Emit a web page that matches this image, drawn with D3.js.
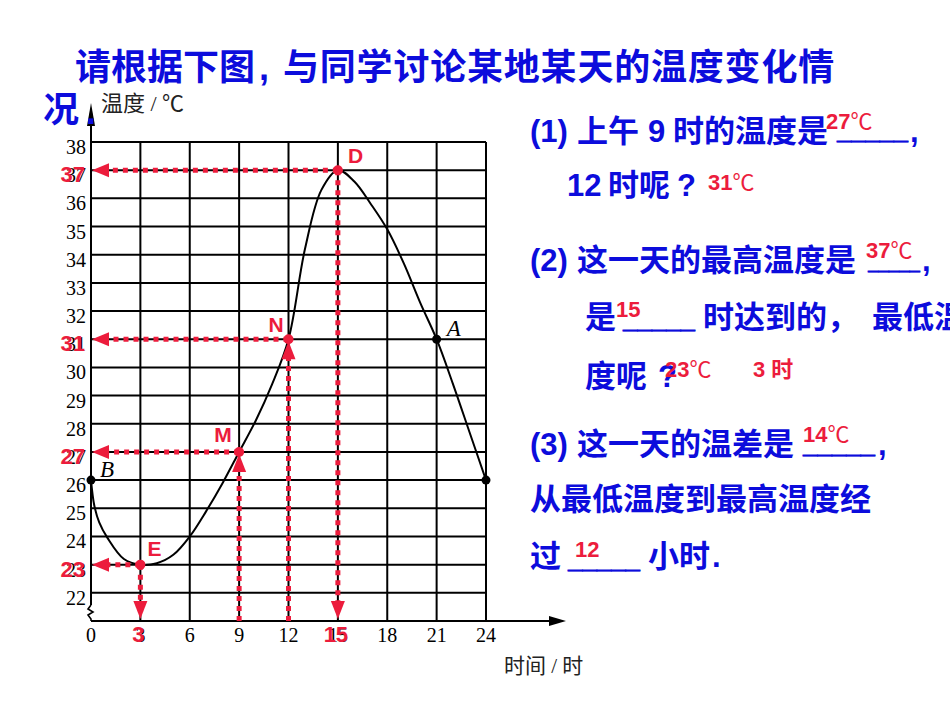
<!DOCTYPE html>
<html><head><meta charset="utf-8">
<script src="https://cdn.jsdelivr.net/npm/d3@7"></script>
<style>body{margin:0;background:#fff}svg{display:block}</style>
</head><body>
<svg id="c" width="950" height="713"></svg>
<script>
// ---- data ----
const hours = [0, 0.2, 0.5, 1, 2, 3, 4, 5, 6, 7, 8, 9, 10, 11, 12, 13, 14, 15, 16, 17, 18, 19, 20, 21, 22, 23, 24];
const temps = [26, 25.1, 24.5, 23.95, 23.2, 23, 23.05, 23.35, 24, 24.9, 25.9, 27, 28.1, 29.4, 31, 34.2, 36.3, 37, 36.6, 35.8, 34.9, 33.7, 32.3, 31, 29.4, 27.7, 26];
const yTicks = [22,23,24,25,26,27,28,29,30,31,32,33,34,35,36,37,38];
const xTicks = [0,3,6,9,12,15,18,21,24];
const keyHours = [3, 9, 12, 15];
const keyTemps = [23, 27, 31, 37];
const keyNames = ["E", "M", "N", "D"];
const keyDir = ["down", "up", "up", "down"];
const blackHours = [0, 21, 24];
const blackTemps = [26, 31, 26];
const blackNames = ["B", "A", ""];
const titleLine1a = "请根据下图";
const titleLine1b = "与同学讨论某地某天的温度变化情";
const titleLine2 = "况";
const yLabel = "温度 / ℃";
const xLabel = "时间 / 时";
const blueSegs = [
  [530,142,"(1)"],[577,142,"上午"],[648,142,"9"],[673,142,"时的温度是"],[910,142,","],
  [567,196,"12"],[608,196,"时呢"],[677,196,"?"],
  [530,271,"(2)"],[577,271,"这一天的最高温度是"],[922,271,","],
  [585,328,"是"],[703,328,"时达到的，"],[872,328,"最低温"],
  [585,387,"度呢"],[658,387,"?"],
  [530,455,"(3)"],[577,455,"这一天的温差是"],[878,455,","],
  [530,510,"从最低温度到最高温度经"],
  [530,567,"过"],[648,567,"小时"],[712,567,"."]
];
const blanks = [[837,908,143],[868,920,273],[623,695,332],[803,875,457],[568,640,572]];
const answers = [
  [826,129,"27","℃"],[708,190,"31","℃"],[866,258,"37","℃"],[616,317,"15",""],
  [665,377,"23","℃"],[753,377,"3 ","时"],[803,442,"14","℃"],[575,557,"12",""]
];

// ---- drawing ----
const RED = "#ec1c3c", BLUE = "#0c0cdc";
const svg = d3.select("#c");
const x = d3.scaleLinear().domain([0,24]).range([91,486]);
const y = d3.scaleLinear().domain([21,38]).range([621,142]);
const sans = "'Liberation Sans','Noto Sans CJK SC',Arial,sans-serif";
const serif = "'Liberation Serif','Noto Sans CJK SC',serif";

// title
svg.append("text").attr("x",75).attr("y",80).attr("font-family",sans).attr("font-weight","bold")
  .attr("font-size",36).attr("fill",BLUE).text(titleLine1a);
svg.append("text").attr("x",259).attr("y",80).attr("font-family",sans).attr("font-weight","bold")
  .attr("font-size",36).attr("fill",BLUE).text(",");
svg.append("text").attr("x",283).attr("y",80).attr("font-family",sans).attr("font-weight","bold")
  .attr("font-size",36).attr("letter-spacing",0.8).attr("fill",BLUE).text(titleLine1b);
svg.append("text").attr("x",43).attr("y",122).attr("font-family",sans).attr("font-weight","bold")
  .attr("font-size",36).attr("fill",BLUE).text(titleLine2);

// grid
const g = svg.append("g");
g.selectAll(".h").data(yTicks).join("line")
  .attr("x1",x(0)).attr("x2",x(24)).attr("y1",d=>y(d)).attr("y2",d=>y(d))
  .attr("stroke","#000").attr("stroke-width",2);
g.selectAll(".v").data(xTicks.slice(1)).join("line")
  .attr("x1",d=>x(d)).attr("x2",d=>x(d)).attr("y1",y(38)).attr("y2",y(21))
  .attr("stroke","#000").attr("stroke-width",2);
// y axis with arrow and break mark
g.append("line").attr("x1",x(0)).attr("x2",x(0)).attr("y1",112).attr("y2",605)
  .attr("stroke","#000").attr("stroke-width",2);
g.append("path").attr("d",`M${x(0)-4},126 L${x(0)},103 L${x(0)+4},126 Z`).attr("fill","#000");
g.append("path").attr("d",`M${x(0)},605 l-3,4 l5,3 l-5,3 l3,4 l0,2`)
  .attr("fill","none").attr("stroke","#000").attr("stroke-width",1.6);
// x axis with arrow
g.append("line").attr("x1",x(0)).attr("x2",556).attr("y1",y(21)).attr("y2",y(21))
  .attr("stroke","#000").attr("stroke-width",2);
g.append("path").attr("d",`M549,${y(21)-5} L566,${y(21)} L549,${y(21)+5} Z`).attr("fill","#000");

// tick labels
svg.selectAll(".yt").data(yTicks).join("text")
  .attr("x",86).attr("y",d=>y(d)+12).attr("text-anchor","end")
  .attr("font-family",serif).attr("font-size",20).attr("fill","#000").text(d=>d);
svg.selectAll(".xt").data(xTicks).join("text")
  .attr("x",d=>x(d)).attr("y",642).attr("text-anchor","middle")
  .attr("font-family",serif).attr("font-size",20).attr("fill","#000").text(d=>d);
svg.append("text").attr("x",101).attr("y",111).attr("font-family",serif).attr("font-size",22)
  .attr("fill","#222").text(yLabel);
svg.append("text").attr("x",504).attr("y",673).attr("font-family",serif).attr("font-size",21)
  .attr("fill","#222").text(xLabel);

// curve
const line = d3.line().x(d=>x(d[0])).y(d=>y(d[1])).curve(d3.curveCatmullRom.alpha(0.5));
svg.append("path").datum(hours.map((h,i)=>[h,temps[i]])).attr("d",line)
  .attr("fill","none").attr("stroke","#000").attr("stroke-width",2);

// red guides
const keys = keyHours.map((h,i)=>({h,t:keyTemps[i],name:keyNames[i],dir:keyDir[i]}));
const r = svg.append("g");
keys.forEach(k=>{
  const px = x(k.h), py = y(k.t);
  r.append("line").attr("x1",px).attr("x2",x(0)+16).attr("y1",py).attr("y2",py)
    .attr("stroke",RED).attr("stroke-width",5).attr("stroke-dasharray","5,5");
  r.append("path").attr("d",`M${x(0)+1},${py} L${x(0)+18},${py-7} L${x(0)+18},${py+7} Z`).attr("fill",RED);
  if (k.dir==="down") {
    r.append("line").attr("x1",px).attr("x2",px).attr("y1",py).attr("y2",y(21)-18)
      .attr("stroke",RED).attr("stroke-width",5).attr("stroke-dasharray","5,5");
    r.append("path").attr("d",`M${px},${y(21)-2} L${px-7},${y(21)-20} L${px+7},${y(21)-20} Z`).attr("fill",RED);
  } else {
    r.append("line").attr("x1",px).attr("x2",px).attr("y1",y(21)).attr("y2",py+18)
      .attr("stroke",RED).attr("stroke-width",5).attr("stroke-dasharray","5,5");
    r.append("path").attr("d",`M${px},${py+2} L${px-7},${py+20} L${px+7},${py+20} Z`).attr("fill",RED);
  }
  r.append("circle").attr("cx",px).attr("cy",py).attr("r",5).attr("fill",RED);
});
// red tick labels
svg.selectAll(".ry").data(keys).join("text")
  .attr("x",85).attr("y",d=>y(d.t)+12).attr("text-anchor","end")
  .attr("font-family",sans).attr("font-weight","bold").attr("font-size",22).attr("fill",RED).text(d=>d.t);
svg.selectAll(".rx").data(keys.filter(k=>k.dir==="down")).join("text")
  .attr("x",d=>x(d.h)-2).attr("y",642).attr("text-anchor","middle")
  .attr("font-family",sans).attr("font-weight","bold").attr("font-size",22).attr("fill",RED).text(d=>d.h);
// point letters
const off = {E:[7,-9],M:[-25,-10],N:[-20,-7],D:[10,-7]};
svg.selectAll(".kn").data(keys).join("text")
  .attr("x",d=>x(d.h)+off[d.name][0]).attr("y",d=>y(d.t)+off[d.name][1])
  .attr("font-family",sans).attr("font-weight","bold").attr("font-size",21).attr("fill",RED).text(d=>d.name);

// black points
blackHours.forEach((h,i)=>{
  svg.append("circle").attr("cx",x(h)).attr("cy",y(blackTemps[i])).attr("r",4.5).attr("fill","#000");
});
svg.append("text").attr("x",x(0)+9).attr("y",y(26)-3).attr("font-family",serif).attr("font-style","italic")
  .attr("font-size",23).attr("fill","#000").text(blackNames[0]);
svg.append("text").attr("x",x(21)+10).attr("y",y(31)-3).attr("font-family",serif).attr("font-style","italic")
  .attr("font-size",23).attr("fill","#000").text(blackNames[1]);

// title dot overlapping axis
svg.append("text").attr("x",86).attr("y",124).attr("font-family",sans).attr("font-weight","bold")
  .attr("font-size",36).attr("fill",BLUE).text(".");

// question text
svg.selectAll(".bq").data(blueSegs).join("text")
  .attr("x",d=>d[0]).attr("y",d=>d[1]).attr("font-family",sans).attr("font-weight","bold")
  .attr("font-size",31).attr("fill",BLUE).text(d=>d[2]);
svg.selectAll(".bl").data(blanks).join("text")
  .attr("x",d=>d[0]).attr("y",d=>d[2]-5).attr("textLength",d=>d[1]-d[0]).attr("lengthAdjust","spacingAndGlyphs")
  .attr("font-family",sans).attr("font-weight","bold").attr("font-size",31).attr("fill",BLUE)
  .attr("stroke",BLUE).attr("stroke-width",0.8).text("_____");
const at = svg.selectAll(".an").data(answers).join("text")
  .attr("x",d=>d[0]).attr("y",d=>d[1]).attr("font-family",sans).attr("font-weight","bold")
  .attr("font-size",22).attr("fill",RED);
at.append("tspan").text(d=>d[2]);
at.append("tspan").attr("font-weight",d=>d[3]==="℃"?"normal":"bold").text(d=>d[3]);
</script>
</body></html>
